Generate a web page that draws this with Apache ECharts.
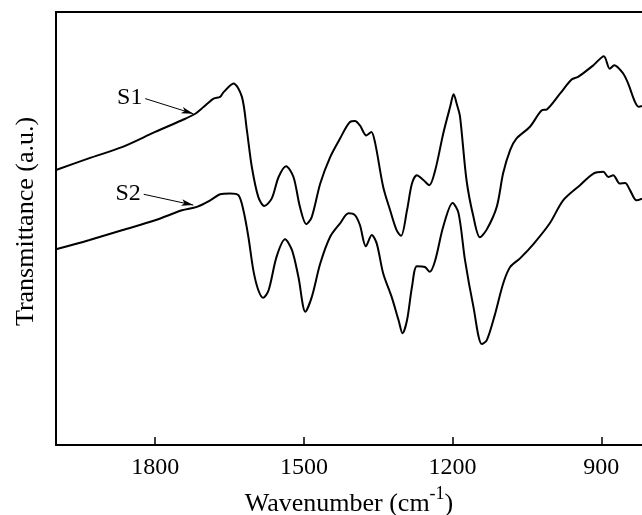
<!DOCTYPE html>
<html>
<head>
<meta charset="utf-8">
<script src="https://cdn.jsdelivr.net/npm/echarts@6/dist/echarts.min.js"></script>
<style>html,body{margin:0;padding:0;background:#fff}#c{width:642px;height:515px}</style>
</head>
<body>
<div id="c"></div>
<script>
const xTicks = [1800, 1500, 1200, 900];
const s1Wave = [2000,1934,1867,1800,1746,1719,1702,1682,1669,1662,1642,1625,1615,1605,1592,1580,1565,1551,1536,1521,1508,1495,1484,1467,1447,1427,1407,1397,1387,1374,1364,1356,1340,1326,1313,1304,1292,1282,1272,1259,1247,1235,1219,1205,1198,1191,1185,1172,1158,1145,1131,1111,1098,1084,1071,1044,1020,1010,983,960,947,916,895,883,874,856,846,832,824,818];
const s1Val = [63.5,66.2,68.8,72.3,75.0,76.5,78.1,80.0,80.4,81.5,83.5,80.4,72.7,64.2,57.3,55.2,56.9,61.9,64.4,61.9,55.0,51.0,52.7,60.4,66.5,70.8,74.6,74.8,73.8,71.5,72.3,69.6,59.6,54.2,49.6,48.3,54.2,60.4,62.3,61.2,60.0,63.5,71.9,78.1,81.0,78.5,75.8,61.2,52.7,48.0,49.8,55.0,62.8,68.1,70.8,73.5,77.3,77.5,81.2,84.4,85.0,87.7,89.8,86.9,87.7,85.8,83.5,79.2,78.1,78.3];
const s2Wave = [2000,1934,1867,1800,1746,1716,1689,1669,1649,1632,1622,1612,1602,1592,1582,1571,1555,1538,1524,1511,1497,1484,1467,1447,1427,1410,1397,1387,1375,1363,1353,1340,1323,1309,1301,1292,1282,1272,1256,1246,1235,1219,1200,1188,1175,1158,1141,1131,1115,1098,1084,1064,1037,1004,977,943,916,896,886,876,863,852,842,829,818];
const s2Val = [45.2,47.3,49.6,51.9,54.2,55.0,56.5,57.9,58.1,57.7,54.2,48.1,40.4,35.8,34.0,35.8,43.5,47.5,45.0,38.8,30.8,34.2,41.9,48.1,51.2,53.5,53.1,50.8,45.9,48.5,46.5,39.6,34.2,28.8,25.8,28.8,36.5,41.3,41.1,40.0,42.7,50.4,55.9,53.5,42.7,31.9,23.3,24.2,30.0,37.3,41.1,43.1,46.4,51.2,56.5,60.0,62.7,63.1,61.9,62.3,60.4,60.5,58.8,56.5,56.9];
const labels = ['S1', 'S2'];
const s1Arrow = [[1820, 80.0], [1723, 76.5]];
const s2Arrow = [[1823, 57.9], [1723, 55.4]];

const FONT = "'Liberation Serif','Times New Roman',serif";
const pair = (w, v) => w.map((x, i) => [x, v[i]]);
const arrowLine = (pts, name) => ({
  silent: true,
  symbol: ['none', 'arrow'],
  symbolSize: [5, 12],
  lineStyle: { color: '#000', width: 1, type: 'solid' },
  label: { show: true, position: 'start', formatter: name, fontFamily: FONT, fontSize: 24, color: '#000', distance: 3 },
  emphasis: { disabled: true },
  data: [[{ coord: pts[0] }, { coord: pts[1] }]]
});

const chart = echarts.init(document.getElementById('c'), null, { renderer: 'canvas' });
chart.setOption({
  animation: false,
  backgroundColor: '#fff',
  grid: { left: 56, right: 0, top: 12, bottom: 70, containLabel: false, outerBoundsMode: 'none' },
  xAxis: [{
    type: 'value', inverse: true, min: 818, max: 2000,
    axisLine: { show: true, onZero: false, lineStyle: { color: '#000', width: 2 } },
    axisTick: { show: true, inside: true, length: 8, customValues: xTicks, lineStyle: { color: '#000', width: 1.5 } },
    axisLabel: { show: true, customValues: xTicks, margin: 11, fontFamily: FONT, fontSize: 24, color: '#000', formatter: v => String(v) },
    splitLine: { show: false },
    name: '{t|Wavenumber (cm}{s|-1}{t|)}',
    nameLocation: 'middle', nameGap: 35,
    nameTextStyle: {
      rich: {
        t: { fontFamily: FONT, fontSize: 26, color: '#000', lineHeight: 32, verticalAlign: 'bottom' },
        s: { fontFamily: FONT, fontSize: 18, color: '#000', lineHeight: 32, verticalAlign: 'top' }
      }
    }
  }, {
    type: 'value', position: 'top', inverse: true, min: 818, max: 2000,
    axisLine: { show: true, onZero: false, lineStyle: { color: '#000', width: 2 } },
    axisTick: { show: false }, axisLabel: { show: false }, splitLine: { show: false }
  }],
  yAxis: {
    type: 'value', min: 0, max: 100,
    axisLine: { show: true, onZero: false, lineStyle: { color: '#000', width: 2 } },
    axisTick: { show: false }, axisLabel: { show: false }, splitLine: { show: false },
    name: 'Transmittance (a.u.)', nameLocation: 'middle', nameGap: 17,
    nameTextStyle: { fontFamily: FONT, fontSize: 26, color: '#000', padding: [0, 0, 0, 14] }
  },
  series: [{
    name: labels[0], type: 'line', data: pair(s1Wave, s1Val), showSymbol: false, smooth: 0.3,
    lineStyle: { color: '#000', width: 2 }, markLine: arrowLine(s1Arrow, labels[0])
  }, {
    name: labels[1], type: 'line', data: pair(s2Wave, s2Val), showSymbol: false, smooth: 0.3,
    lineStyle: { color: '#000', width: 2 }, markLine: arrowLine(s2Arrow, labels[1])
  }]
});
</script>
</body>
</html>
